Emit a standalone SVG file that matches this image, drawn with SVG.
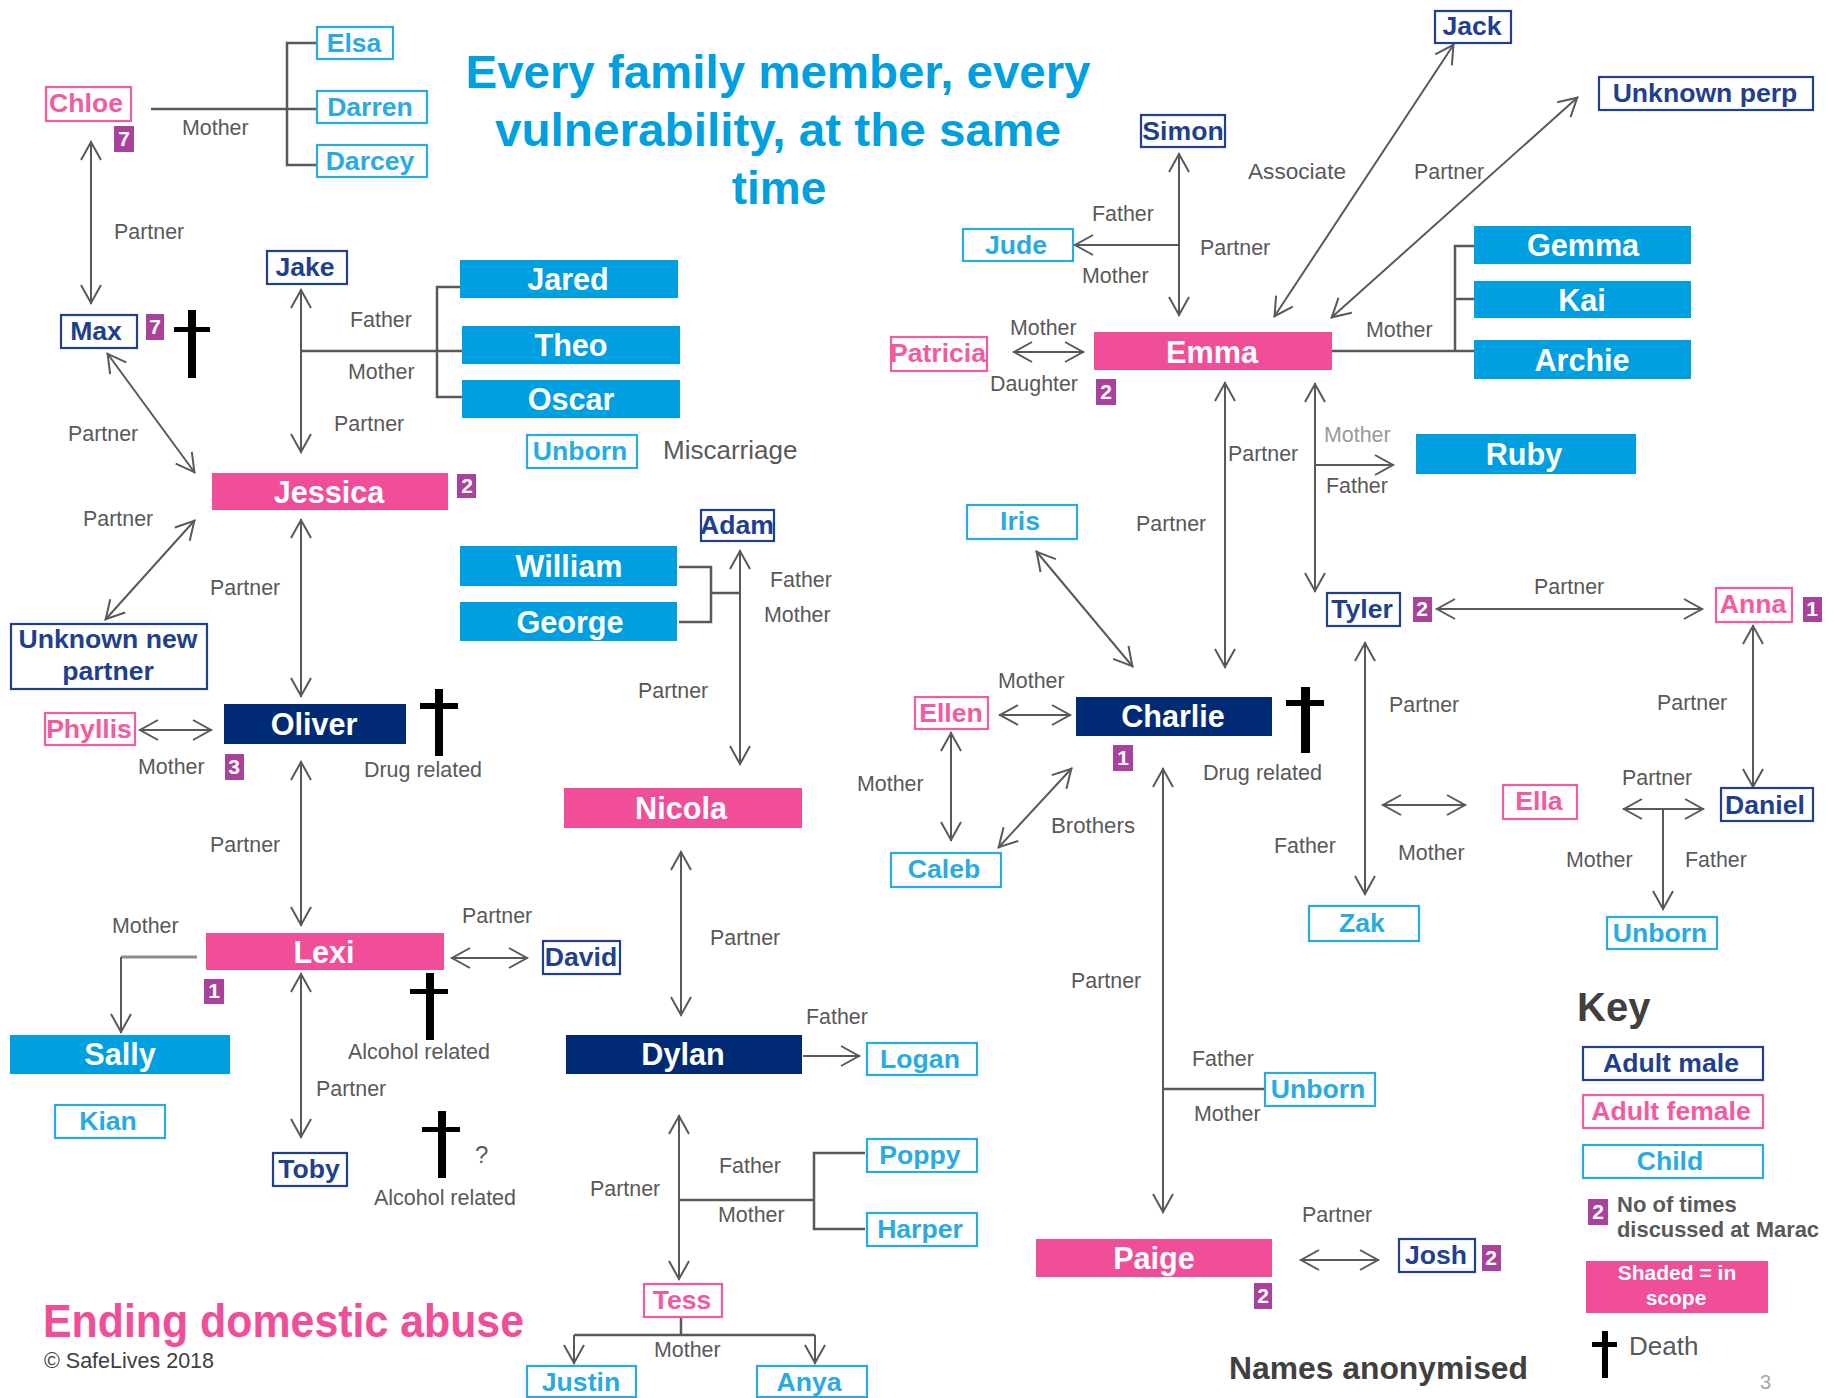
<svg xmlns="http://www.w3.org/2000/svg" width="1834" height="1398" viewBox="0 0 1834 1398">
<style>
text{font-family:"Liberation Sans",Arial,sans-serif;transform:translateY(-1px)}
.l{font-size:21.4px;fill:#595959}
.n{font-size:26.6px;font-weight:700;text-anchor:middle}
.f{font-size:30.6px;font-weight:700;fill:#fff;text-anchor:middle}
.m{fill:#fff;stroke:#1f3f8f;stroke-width:2.2}.mt{fill:#1f3f8f}
.w{fill:#fff;stroke:#f35ba0;stroke-width:2.2}.wt{fill:#f35ba0}
.c{fill:#fff;stroke:#29abe2;stroke-width:2.2}.ct{fill:#29abe2}
.fb{fill:#009fdf}.fp{fill:#f04e98}.fn{fill:#002b74}
.b{fill:#a9429b}.bt{font-size:21px;font-weight:700;fill:#fff;text-anchor:middle}
.t{font-size:46px;font-weight:700;fill:#009fdf;text-anchor:middle}
.x{fill:#000}
.a{fill:none;stroke:#595959;stroke-width:2;marker-start:url(#a);marker-end:url(#a)}
.e{fill:none;stroke:#595959;stroke-width:2;marker-end:url(#a)}
.p{fill:none;stroke:#595959;stroke-width:2.5}
</style>
<defs>
<marker id="a" markerUnits="userSpaceOnUse" markerWidth="24" markerHeight="26" viewBox="0 0 24 26" refX="22" refY="13" orient="auto-start-reverse"><path d="M3,3 L21,13 L3,23" fill="none" stroke="#595959" stroke-width="2"/></marker>
</defs>
<rect width="1834" height="1398" fill="#fff"/>

<g id="title">
<text class="t" x="778" y="89" textLength="625" lengthAdjust="spacingAndGlyphs">Every family member, every</text>
<text class="t" x="778" y="147" textLength="566" lengthAdjust="spacingAndGlyphs">vulnerability, at the same</text>
<text class="t" x="779" y="205">time</text>
</g>

<g id="connectors">
<path class="p" d="M151,109H317M317,43H287V165H317"/>
<path class="a" d="M91,141V304"/>
<path class="a" d="M301,289V453"/>
<path class="p" d="M301,351H462M460,287H437V397H462"/>
<path class="a" d="M107,353L195,473"/>
<path class="a" d="M195,520L105,620"/>
<path class="a" d="M301,519V697"/>
<path class="a" d="M139,730H212"/>
<path class="a" d="M301,761V926"/>
<path class="p" d="M197,957H121" style="stroke:#8c8c8c;stroke-width:3"/>
<path class="e" d="M121,957V1033"/>
<path class="a" d="M301,973V1138"/>
<path class="a" d="M451,958H528"/>
<path class="a" d="M679,1115V1280"/>
<path class="p" d="M679,1200H814M865,1153H814V1229H865"/>
<path class="p" d="M681,1317V1335M574,1335H815"/>
<path class="e" d="M574,1335V1364"/>
<path class="e" d="M815,1335V1364"/>
<path class="e" d="M803,1056H860"/>
<path class="a" d="M681,851V1016"/>
<path class="a" d="M740,550V765"/>
<path class="p" d="M679,567H711V622H679M711,593H740"/>
<path class="a" d="M1179,153V316"/>
<path class="e" d="M1179,245H1074"/>
<path class="a" d="M1454,44L1274,317"/>
<path class="a" d="M1578,97L1331,318"/>
<path class="p" d="M1331,351H1474M1474,246H1455V351M1455,299H1474"/>
<path class="a" d="M1013,352H1084"/>
<path class="a" d="M1225,382V668"/>
<path class="a" d="M1315,383V592"/>
<path class="e" d="M1315,465H1394"/>
<path class="a" d="M1036,551L1133,667"/>
<path class="a" d="M999,715H1071"/>
<path class="a" d="M951,732V841"/>
<path class="a" d="M1072,768L998,848"/>
<path class="a" d="M1163,768V1213"/>
<path class="p" d="M1163,1089H1264"/>
<path class="a" d="M1300,1260H1379"/>
<path class="a" d="M1436,609H1703"/>
<path class="a" d="M1753,625V788"/>
<path class="a" d="M1623,809H1704"/>
<path class="e" d="M1663,809V910"/>
<path class="a" d="M1382,805H1466"/>
<path class="a" d="M1365,642V895"/>
</g>

<g id="labels">
<text class="l" x="182" y="136">Mother</text>
<text class="l" x="114" y="240">Partner</text>
<text class="l" x="350" y="328">Father</text>
<text class="l" x="348" y="380">Mother</text>
<text class="l" x="334" y="432">Partner</text>
<text class="l" x="68" y="442">Partner</text>
<text x="663" y="460" style="font-size:26px;fill:#595959">Miscarriage</text>
<text class="l" x="83" y="527">Partner</text>
<text class="l" x="210" y="596">Partner</text>
<text class="l" x="138" y="775">Mother</text>
<text class="l" x="364" y="778" textLength="118" lengthAdjust="spacingAndGlyphs">Drug related</text>
<text class="l" x="210" y="853">Partner</text>
<text class="l" x="112" y="934">Mother</text>
<text class="l" x="348" y="1060" textLength="142" lengthAdjust="spacingAndGlyphs">Alcohol related</text>
<text class="l" x="316" y="1097">Partner</text>
<text class="l" x="462" y="924">Partner</text>
<text x="475" y="1164" style="font-size:24px;fill:#595959">?</text>
<text class="l" x="374" y="1206" textLength="142" lengthAdjust="spacingAndGlyphs">Alcohol related</text>
<text class="l" x="590" y="1197">Partner</text>
<text class="l" x="654" y="1358">Mother</text>
<text class="l" x="719" y="1174">Father</text>
<text class="l" x="718" y="1223">Mother</text>
<text class="l" x="806" y="1025">Father</text>
<text class="l" x="710" y="946">Partner</text>
<text class="l" x="770" y="588">Father</text>
<text class="l" x="764" y="623">Mother</text>
<text class="l" x="638" y="699">Partner</text>
<text class="l" x="1092" y="222">Father</text>
<text class="l" x="1082" y="284">Mother</text>
<text class="l" x="1200" y="256">Partner</text>
<text class="l" x="1248" y="180" textLength="98" lengthAdjust="spacingAndGlyphs">Associate</text>
<text class="l" x="1414" y="180">Partner</text>
<text class="l" x="1366" y="338">Mother</text>
<text class="l" x="1010" y="336">Mother</text>
<text class="l" x="990" y="392" textLength="88" lengthAdjust="spacingAndGlyphs">Daughter</text>
<text class="l" x="1228" y="462">Partner</text>
<text class="l" x="1136" y="532">Partner</text>
<text class="l" x="1324" y="443" style="fill:#999">Mother</text>
<text class="l" x="1326" y="494">Father</text>
<text class="l" x="1203" y="781" textLength="119" lengthAdjust="spacingAndGlyphs">Drug related</text>
<text class="l" x="998" y="689">Mother</text>
<text class="l" x="857" y="792">Mother</text>
<text class="l" x="1051" y="834" textLength="84" lengthAdjust="spacingAndGlyphs">Brothers</text>
<text class="l" x="1071" y="989">Partner</text>
<text class="l" x="1192" y="1067">Father</text>
<text class="l" x="1194" y="1122">Mother</text>
<text class="l" x="1302" y="1223">Partner</text>
<text class="l" x="1534" y="595">Partner</text>
<text class="l" x="1657" y="711">Partner</text>
<text class="l" x="1622" y="786">Partner</text>
<text class="l" x="1566" y="868">Mother</text>
<text class="l" x="1685" y="868">Father</text>
<text class="l" x="1389" y="713">Partner</text>
<text class="l" x="1274" y="854">Father</text>
<text class="l" x="1398" y="861">Mother</text>
</g>

<g id="chloe"><rect class="w" x="46" y="87" width="85" height="34"/><text class="n wt" x="86" y="113">Chloe</text><rect class="b" x="114" y="126" width="20" height="26"/><text class="bt" x="124" y="147">7</text></g>
<g id="elsa"><rect class="c" x="317" y="27" width="76" height="32"/><text class="n ct" x="354" y="53">Elsa</text></g>
<g id="darren"><rect class="c" x="317" y="91" width="110" height="32"/><text class="n ct" x="370" y="117">Darren</text></g>
<g id="darcey"><rect class="c" x="317" y="145" width="110" height="32"/><text class="n ct" x="370" y="171">Darcey</text></g>
<g id="max"><rect class="m" x="61" y="315" width="76" height="33"/><text class="n mt" x="96" y="341">Max</text><rect class="b" x="146" y="314" width="18" height="26"/><text class="bt" x="155" y="335">7</text><path class="x" d="M188,310h8v17h14v5h-14v46h-8v-46h-14v-5h14z"/></g>
<g id="jake"><rect class="m" x="267" y="251" width="80" height="33"/><text class="n mt" x="305" y="277">Jake</text></g>
<g id="jared"><rect class="fb" x="460" y="260" width="218" height="38"/><text class="f" x="568" y="291">Jared</text></g>
<g id="theo"><rect class="fb" x="462" y="326" width="218" height="38"/><text class="f" x="571" y="357">Theo</text></g>
<g id="oscar"><rect class="fb" x="462" y="380" width="218" height="38"/><text class="f" x="571" y="411">Oscar</text></g>
<g id="unborn1"><rect class="c" x="527" y="435" width="110" height="33"/><text class="n ct" x="580" y="461">Unborn</text></g>
<g id="jessica"><rect class="fp" x="212" y="473" width="236" height="37"/><text class="f" x="329" y="504">Jessica</text><rect class="b" x="457" y="474" width="19" height="24"/><text class="bt" x="467" y="494">2</text></g>
<g id="unknown-new"><rect class="m" x="11" y="624" width="196" height="65"/><text class="n mt" x="108" y="649">Unknown new</text><text class="n mt" x="108" y="681">partner</text></g>
<g id="phyllis"><rect class="w" x="45" y="713" width="90" height="32"/><text class="n wt" x="89" y="739">Phyllis</text></g>
<g id="oliver"><rect class="fn" x="224" y="704" width="182" height="40"/><text class="f" x="314" y="736">Oliver</text><rect class="b" x="225" y="754" width="19" height="26"/><text class="bt" x="234" y="775">3</text><path class="x" d="M435,689h8v14h15v6h-15v47h-8v-47h-15v-6h15z"/></g>
<g id="lexi"><rect class="fp" x="206" y="933" width="238" height="37"/><text class="f" x="324" y="964">Lexi</text><rect class="b" x="204" y="979" width="20" height="25"/><text class="bt" x="214" y="999">1</text><path class="x" d="M426,973h8v16h14v5h-14v46h-8v-46h-16v-5h16z"/></g>
<g id="david"><rect class="m" x="543" y="941" width="77" height="33"/><text class="n mt" x="581" y="967">David</text></g>
<g id="sally"><rect class="fb" x="10" y="1035" width="220" height="39"/><text class="f" x="120" y="1066">Sally</text></g>
<g id="kian"><rect class="c" x="55" y="1105" width="110" height="33"/><text class="n ct" x="108" y="1131">Kian</text></g>
<g id="toby"><rect class="m" x="273" y="1153" width="74" height="33"/><text class="n mt" x="309" y="1179">Toby</text></g>
<g id="death-unknown"><path class="x" d="M438,1111h8v16h14v5h-14v46h-8v-46h-16v-5h16z"/></g>
<g id="adam"><rect class="m" x="701" y="510" width="73" height="31"/><text class="n mt" x="737" y="535">Adam</text></g>
<g id="william"><rect class="fb" x="460" y="546" width="217" height="40"/><text class="f" x="569" y="578">William</text></g>
<g id="george"><rect class="fb" x="460" y="602" width="217" height="39"/><text class="f" x="570" y="634">George</text></g>
<g id="nicola"><rect class="fp" x="564" y="788" width="238" height="40"/><text class="f" x="681" y="820">Nicola</text></g>
<g id="dylan"><rect class="fn" x="566" y="1035" width="236" height="39"/><text class="f" x="683" y="1066">Dylan</text></g>
<g id="logan"><rect class="c" x="867" y="1043" width="110" height="32"/><text class="n ct" x="920" y="1069">Logan</text></g>
<g id="poppy"><rect class="c" x="867" y="1139" width="110" height="33"/><text class="n ct" x="920" y="1165">Poppy</text></g>
<g id="harper"><rect class="c" x="867" y="1213" width="110" height="33"/><text class="n ct" x="920" y="1239">Harper</text></g>
<g id="tess"><rect class="w" x="644" y="1284" width="78" height="33"/><text class="n wt" x="682" y="1310">Tess</text></g>
<g id="justin"><rect class="c" x="527" y="1366" width="109" height="31"/><text class="n ct" x="581" y="1392">Justin</text></g>
<g id="anya"><rect class="c" x="757" y="1366" width="110" height="31"/><text class="n ct" x="809" y="1392">Anya</text></g>
<g id="jack"><rect class="m" x="1435" y="11" width="76" height="32"/><text class="n mt" x="1472" y="36">Jack</text></g>
<g id="unknown-perp"><rect class="m" x="1599" y="77" width="214" height="33"/><text class="n mt" x="1705" y="103">Unknown perp</text></g>
<g id="simon"><rect class="m" x="1141" y="115" width="84" height="32"/><text class="n mt" x="1183" y="141">Simon</text></g>
<g id="jude"><rect class="c" x="963" y="229" width="110" height="32"/><text class="n ct" x="1016" y="255">Jude</text></g>
<g id="gemma"><rect class="fb" x="1474" y="226" width="217" height="38"/><text class="f" x="1583" y="257">Gemma</text></g>
<g id="kai"><rect class="fb" x="1474" y="281" width="217" height="37"/><text class="f" x="1582" y="312">Kai</text></g>
<g id="archie"><rect class="fb" x="1474" y="340" width="217" height="39"/><text class="f" x="1582" y="372">Archie</text></g>
<g id="emma"><rect class="fp" x="1094" y="332" width="238" height="38"/><text class="f" x="1212" y="364">Emma</text><rect class="b" x="1096" y="379" width="20" height="26"/><text class="bt" x="1106" y="400">2</text></g>
<g id="patricia"><rect class="w" x="891" y="337" width="96" height="34"/><text class="n wt" x="938" y="363">Patricia</text></g>
<g id="ruby"><rect class="fb" x="1416" y="434" width="220" height="40"/><text class="f" x="1524" y="466">Ruby</text></g>
<g id="iris"><rect class="c" x="967" y="505" width="110" height="34"/><text class="n ct" x="1020" y="531">Iris</text></g>
<g id="charlie"><rect class="fn" x="1076" y="697" width="196" height="39"/><text class="f" x="1173" y="728">Charlie</text><rect class="b" x="1113" y="745" width="20" height="26"/><text class="bt" x="1123" y="766">1</text><path class="x" d="M1301,687h9v13h14v6h-14v47h-9v-47h-15v-6h15z"/></g>
<g id="ellen"><rect class="w" x="915" y="697" width="73" height="32"/><text class="n wt" x="951" y="723">Ellen</text></g>
<g id="caleb"><rect class="c" x="891" y="853" width="110" height="34"/><text class="n ct" x="944" y="879">Caleb</text></g>
<g id="unborn2"><rect class="c" x="1265" y="1073" width="110" height="33"/><text class="n ct" x="1318" y="1099">Unborn</text></g>
<g id="paige"><rect class="fp" x="1036" y="1239" width="236" height="38"/><text class="f" x="1154" y="1270">Paige</text><rect class="b" x="1254" y="1283" width="18" height="26"/><text class="bt" x="1263" y="1304">2</text></g>
<g id="josh"><rect class="m" x="1399" y="1239" width="76" height="33"/><text class="n mt" x="1436" y="1265">Josh</text><rect class="b" x="1482" y="1245" width="19" height="26"/><text class="bt" x="1491" y="1266">2</text></g>
<g id="tyler"><rect class="m" x="1327" y="593" width="73" height="33"/><text class="n mt" x="1362" y="619">Tyler</text><rect class="b" x="1413" y="597" width="19" height="25"/><text class="bt" x="1422" y="617">2</text></g>
<g id="anna"><rect class="w" x="1716" y="588" width="76" height="34"/><text class="n wt" x="1753" y="614">Anna</text><rect class="b" x="1803" y="597" width="19" height="25"/><text class="bt" x="1812" y="617">1</text></g>
<g id="daniel"><rect class="m" x="1721" y="788" width="92" height="33"/><text class="n mt" x="1765" y="815">Daniel</text></g>
<g id="unborn3"><rect class="c" x="1607" y="917" width="110" height="32"/><text class="n ct" x="1660" y="943">Unborn</text></g>
<g id="ella"><rect class="w" x="1503" y="785" width="74" height="34"/><text class="n wt" x="1539" y="811">Ella</text></g>
<g id="zak"><rect class="c" x="1309" y="906" width="110" height="35"/><text class="n ct" x="1362" y="933">Zak</text></g>

<g id="footer">
<text x="43" y="1338" textLength="481" lengthAdjust="spacingAndGlyphs" style="font-size:46px;font-weight:700;fill:#f04e98">Ending domestic abuse</text>
<text x="44" y="1369" style="font-size:21.5px;fill:#404040">© SafeLives 2018</text>
<text x="1229" y="1380" textLength="299" lengthAdjust="spacingAndGlyphs" style="font-size:31px;font-weight:700;fill:#404040">Names anonymised</text>
<text x="1760" y="1390" style="font-size:20px;fill:#a6a6a6">3</text>
</g>

<g id="key">
<text x="1577" y="1022" style="font-size:40px;font-weight:700;fill:#404040">Key</text>
<rect class="m" x="1583" y="1047" width="180" height="33"/><text class="n mt" x="1671" y="1073">Adult male</text>
<rect class="w" x="1583" y="1095" width="180" height="33"/><text class="n wt" x="1671" y="1121">Adult female</text>
<rect class="c" x="1583" y="1145" width="180" height="33"/><text class="n ct" x="1670" y="1171">Child</text>
<rect class="b" x="1588" y="1199" width="20" height="26"/><text class="bt" x="1598" y="1220">2</text>
<text x="1617" y="1213" style="font-size:22px;font-weight:700;fill:#595959">No of times</text>
<text x="1617" y="1238" textLength="202" lengthAdjust="spacingAndGlyphs" style="font-size:22px;font-weight:700;fill:#595959">discussed at Marac</text>
<rect class="fp" x="1586" y="1261" width="182" height="52"/>
<text x="1677" y="1281" style="font-size:21px;font-weight:700;fill:#fff;text-anchor:middle">Shaded = in</text>
<text x="1676" y="1306" style="font-size:21px;font-weight:700;fill:#fff;text-anchor:middle">scope</text>
<path class="x" d="M1602,1331h6v11h9v5h-9v31h-6v-31h-10v-5h10z"/>
<text x="1629" y="1356" style="font-size:26px;fill:#595959">Death</text>
</g>
</svg>
